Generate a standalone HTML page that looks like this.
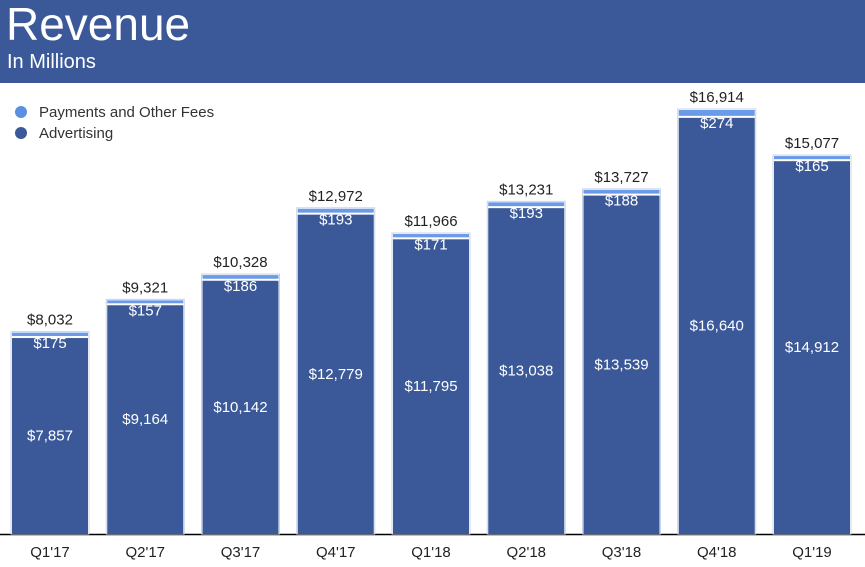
<!DOCTYPE html>
<html><head><meta charset="utf-8"><style>
body{margin:0;width:865px;height:567px;overflow:hidden;background:#fff;font-family:"Liberation Sans",Arial,sans-serif}
#hdr{position:absolute;left:0;top:0;width:865px;height:83px;background:#3b5998}
#t{position:absolute;left:6px;top:-3px;color:#fff;font-size:46px}
#st{position:absolute;left:7px;top:51px;color:#fff;font-size:20px}
svg{position:absolute;left:0;top:0}
</style></head><body>
<div id="hdr">
<div id="t">Revenue</div>
<div id="st">In Millions</div>
</div>
<svg id="c" width="865" height="567">
<circle cx="21" cy="112" r="6" fill="#5b8fe0"/>
<text x="39" y="117" font-size="15" fill="#333">Payments and Other Fees</text>
<circle cx="21" cy="133" r="6" fill="#3b5998"/>
<text x="39" y="138" font-size="15" fill="#333">Advertising</text>
<line x1="0" y1="534.5" x2="865" y2="534.5" stroke="#000" stroke-width="1.5"/>
</svg>
<script>
const categories=["Q1'17","Q2'17","Q3'17","Q4'17","Q1'18","Q2'18","Q3'18","Q4'18","Q1'19"];
const advertising=[7857,9164,10142,12779,11795,13038,13539,16640,14912];
const payments=[175,157,186,193,171,193,188,274,165];
const totals=[8032,9321,10328,12972,11966,13231,13727,16914,15077];
const svg=document.getElementById('c');const NS='http://www.w3.org/2000/svg';
const base=534,k=424/16914;
const y=v=>base-v*k;
const xb=i=>12+i*95.25;
const fmt=v=>'$'+v.toLocaleString('en-US');
function mk(t,a){const e=document.createElementNS(NS,t);for(const n in a)e.setAttribute(n,a[n]);svg.appendChild(e);return e;}
categories.forEach((c,i)=>{
 const x=xb(i),w=76,top=y(totals[i]),adTop=y(advertising[i]);
 let o=mk('rect',{x:x-1,y:top-1,width:w+2,height:base-top+1,fill:'#fff',stroke:'#c8d3e6','stroke-width':1});
 
 let p=mk('rect',{x:x,y:top,width:w,height:Math.max(adTop-top-1,2),fill:'#6b9be8'});
 
 let a=mk('rect',{x:x,y:adTop+1,width:w,height:base-adTop-1,fill:'#3b5998'});
 
 let t=mk('text',{x:x+w/2,y:top-8,'text-anchor':'middle','font-size':15,fill:'#222'});t.textContent=fmt(totals[i]);
 
 let pl=mk('text',{x:x+w/2,y:adTop+11,'text-anchor':'middle','font-size':15,fill:'#fff'});pl.textContent=fmt(payments[i]);
 
 let al=mk('text',{x:x+w/2,y:(adTop+base)/2+5,'text-anchor':'middle','font-size':15,fill:'#fff'});al.textContent=fmt(advertising[i]);
 
 let cl=mk('text',{x:x+w/2,y:557,'text-anchor':'middle','font-size':15,fill:'#222'});cl.textContent=c;
 
});
</script>
</body></html>
